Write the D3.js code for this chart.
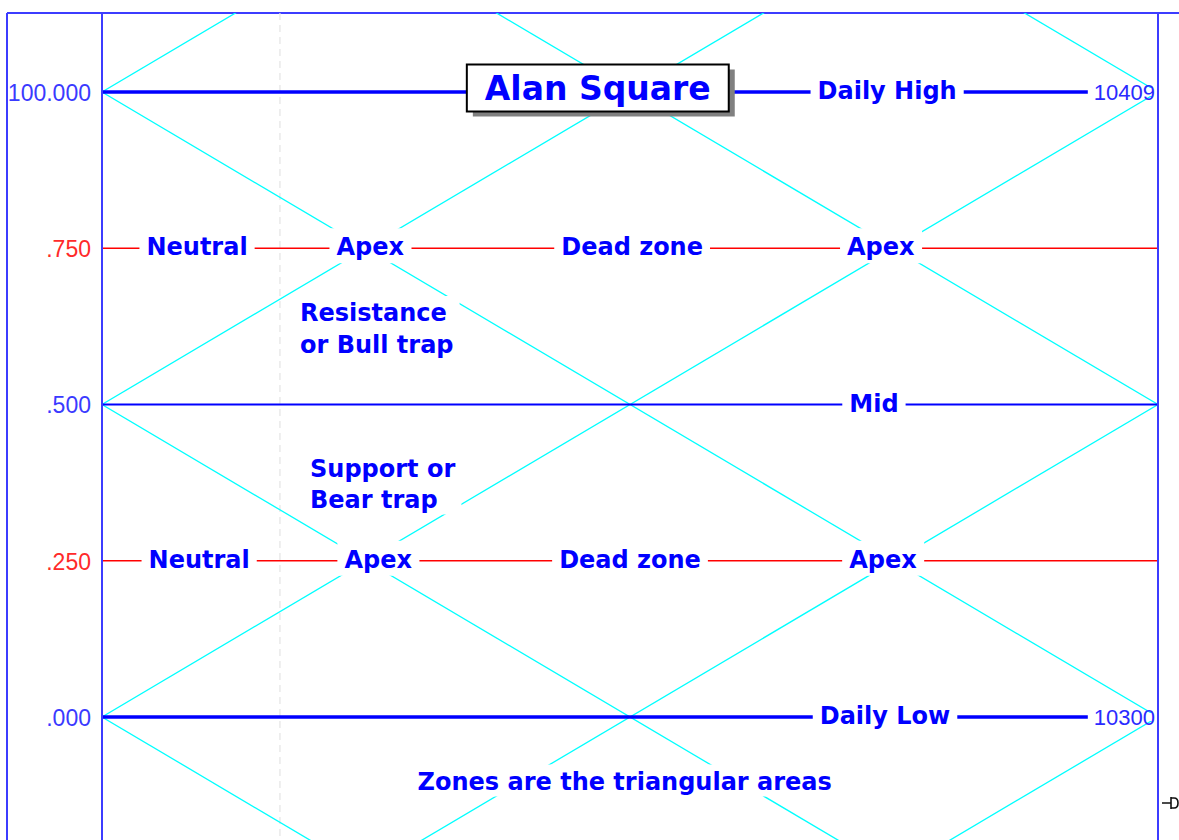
<!DOCTYPE html>
<html>
<head>
<meta charset="utf-8">
<script src="https://cdn.jsdelivr.net/npm/d3@7"></script>
<style>
  html, body { margin: 0; padding: 0; background: #ffffff; }
  svg { display: block; }
</style>
</head>
<body>
<svg id="chart" width="1179" height="840"></svg>
<script>
// ---------------- data ----------------
const levels      = [1, 0.75, 0.5, 0.25, 0];
const tickLabels  = ["100.000", ".750", ".500", ".250", ".000"];
const levelKinds  = ["extreme", "quarter", "mid", "quarter", "extreme"];
const priceLevels = [1, 0];
const priceLabels = ["10409", "10300"];
// diagonal lattice: y = offset + slope * x  (x in half-day units 0..2)
const diagSlopes  = [0.5, -0.5];
const diagOffsets = [-1, -0.5, 0, 0.5, 1, 1.5, 2];
// line labels: text, level, x
const lineLabelText  = ["Daily High", "Neutral", "Apex", "Dead zone", "Apex", "Mid",
                        "Neutral", "Apex", "Dead zone", "Apex", "Daily Low"];
const lineLabelLevel = [1, 0.75, 0.75, 0.75, 0.75, 0.5, 0.25, 0.25, 0.25, 0.25, 0];
const lineLabelX     = [1.487, 0.18, 0.508, 1.004, 1.475, 1.462, 0.184, 0.523, 1.0, 1.479, 1.483];
const titleText = "Alan Square";
const noteLines = [["Resistance", "or Bull trap"], ["Support or", "Bear trap"], ["Zones are the triangular areas"]];
const markerX = 0.337;

// ---------------- layout ----------------
const W = 1179, H = 840;
const pL = 102, pR = 1158, pT = 13, pB = 840, frameX = 7;
const x = d3.scaleLinear().domain([0, 2]).range([pL, pR]);
const y = d3.scaleLinear().domain([0, 1]).range([717, 92]);
const BLUE = "#0000ff", FRAME = "#3c3cff", RED = "#ff0000", CYAN = "#00ffff";
const kindStyle = {
  extreme: {stroke: BLUE, width: 3.5, tick: "#3a3aff"},
  quarter: {stroke: RED,  width: 1.6, tick: "#ff2a2a"},
  mid:     {stroke: BLUE, width: 2,   tick: "#3a3aff"}
};
const boldFont = "'DejaVu Sans', sans-serif";
const tickFont = "'Liberation Sans', Arial, sans-serif";

const svg = d3.select("#chart");
svg.append("defs").append("clipPath").attr("id", "plot")
  .append("rect").attr("x", pL).attr("y", pT).attr("width", pR - pL).attr("height", pB - pT);

// frame
svg.append("line").attr("x1", frameX).attr("x2", W).attr("y1", pT).attr("y2", pT)
  .attr("stroke", FRAME).attr("stroke-width", 2);
svg.append("line").attr("x1", frameX).attr("x2", frameX).attr("y1", pT).attr("y2", H)
  .attr("stroke", FRAME).attr("stroke-width", 2);

const plot = svg.append("g").attr("clip-path", "url(#plot)");

// faint dashed vertical
plot.append("line").attr("x1", x(markerX)).attr("x2", x(markerX)).attr("y1", pT).attr("y2", pB)
  .attr("stroke", "#e4e4e4").attr("stroke-width", 1.2).attr("stroke-dasharray", "7,5");

// diagonals
const diagData = [];
diagSlopes.forEach(s => diagOffsets.forEach(c => diagData.push({s, c})));
plot.selectAll("line.diag").data(diagData).join("line").attr("class", "diag")
  .attr("x1", x(0)).attr("y1", d => y(d.c))
  .attr("x2", x(2)).attr("y2", d => y(d.c + d.s * 2))
  .attr("stroke", CYAN).attr("stroke-width", 1.3);

// horizontal levels
plot.selectAll("line.level").data(levels).join("line").attr("class", "level")
  .attr("x1", x(0)).attr("x2", x(2))
  .attr("y1", d => y(d)).attr("y2", d => y(d))
  .attr("stroke", (d, i) => kindStyle[levelKinds[i]].stroke)
  .attr("stroke-width", (d, i) => kindStyle[levelKinds[i]].width);

// labels with white background
function bgText(g, tx, ty, str, opts) {
  const t = g.append("text").attr("x", tx).attr("y", ty).text(str)
    .attr("font-family", opts.font).attr("font-size", opts.size)
    .attr("font-weight", opts.weight || "normal")
    .attr("text-anchor", opts.anchor || "middle")
    .attr("fill", opts.fill || BLUE);
  const b = t.node().getBBox();
  g.insert("rect", () => t.node())
    .attr("x", b.x - opts.padX).attr("width", b.width + 2 * opts.padX)
    .attr("y", opts.rectTop !== undefined ? opts.rectTop : b.y)
    .attr("height", opts.rectH !== undefined ? opts.rectH : b.height)
    .attr("fill", "#ffffff");
  return t;
}

const labelG = svg.append("g");
lineLabelText.forEach((s, i) => {
  const ly = y(lineLabelLevel[i]);
  bgText(labelG.append("g"), x(lineLabelX[i]), ly + 7, s,
    {font: boldFont, size: 24, weight: "bold", padX: 7, rectTop: ly - 20, rectH: 35});
});

// price labels at the right end
priceLevels.forEach((v, i) => {
  const ly = y(v);
  bgText(labelG.append("g"), pR - 3, ly + 8, priceLabels[i],
    {font: tickFont, size: 22, anchor: "end", padX: 6, rectTop: ly - 4, rectH: 8, fill: "#2a2aff"});
});

// notes
const noteG = svg.append("g");
const notePos = [
  {x: 0.375, y: [0.6336, 0.5832], anchor: "start"},
  {x: 0.394, y: [0.3848, 0.3352], anchor: "start"},
  {x: 0.99,  y: [-0.116],         anchor: "middle"}
];
noteLines.forEach((lines, k) => {
  const g = noteG.append("g");
  const p = notePos[k];
  const texts = lines.map((s, j) => g.append("text")
    .attr("x", x(p.x)).attr("y", y(p.y[j])).text(s)
    .attr("font-family", boldFont).attr("font-size", 24).attr("font-weight", "bold")
    .attr("text-anchor", p.anchor).attr("fill", BLUE));
  let x0 = Infinity, y0 = Infinity, x1 = -Infinity, y1 = -Infinity;
  texts.forEach(t => { const b = t.node().getBBox();
    x0 = Math.min(x0, b.x); y0 = Math.min(y0, b.y);
    x1 = Math.max(x1, b.x + b.width); y1 = Math.max(y1, b.y + b.height); });
  g.insert("rect", "text").attr("x", x0 - 6).attr("y", y0 - 3)
    .attr("width", x1 - x0 + 12).attr("height", y1 - y0 + 4).attr("fill", "#fff");
});

// title box
const tcx = x(0.939), tcy = y(1) - 4;
const titleG = svg.append("g");
const tt = titleG.append("text").attr("x", tcx).attr("y", tcy + 12).text(titleText)
  .attr("font-family", boldFont).attr("font-size", 33).attr("font-weight", "bold")
  .attr("text-anchor", "middle").attr("fill", BLUE);
const tb = tt.node().getBBox();
const bw = tb.width + 36, bh = 47;
titleG.insert("rect", "text").attr("x", tcx - bw / 2 + 6).attr("y", tcy - bh / 2 + 5)
  .attr("width", bw).attr("height", bh).attr("fill", "#808080");
titleG.insert("rect", "text").attr("x", tcx - bw / 2).attr("y", tcy - bh / 2)
  .attr("width", bw).attr("height", bh).attr("fill", "#fff")
  .attr("stroke", "#000").attr("stroke-width", 2);

// y axis (tick labels)
const axis = d3.axisLeft(y).tickValues(levels).tickSize(0).tickPadding(11)
  .tickFormat((d, i) => tickLabels[i]);
const axG = svg.append("g").attr("transform", `translate(${pL},0)`).call(axis);
axG.select(".domain").remove();
axG.selectAll("text")
  .attr("font-family", tickFont).attr("font-size", 23)
  .attr("fill", (d, i) => kindStyle[levelKinds[i]].tick)
  .attr("dy", "0.36em");

// vertical axis lines
svg.append("line").attr("x1", pL).attr("x2", pL).attr("y1", pT).attr("y2", pB)
  .attr("stroke", FRAME).attr("stroke-width", 2);
svg.append("line").attr("x1", pR).attr("x2", pR).attr("y1", pT).attr("y2", pB)
  .attr("stroke", FRAME).attr("stroke-width", 2);

// small marker at right edge
svg.append("path")
  .attr("d", "M1162,803H1171M1171,797V809M1171,798h3q4,0 4,5q0,5 -4,5h-3")
  .attr("fill", "none").attr("stroke", "#111").attr("stroke-width", 1.6);
</script>
</body>
</html>
